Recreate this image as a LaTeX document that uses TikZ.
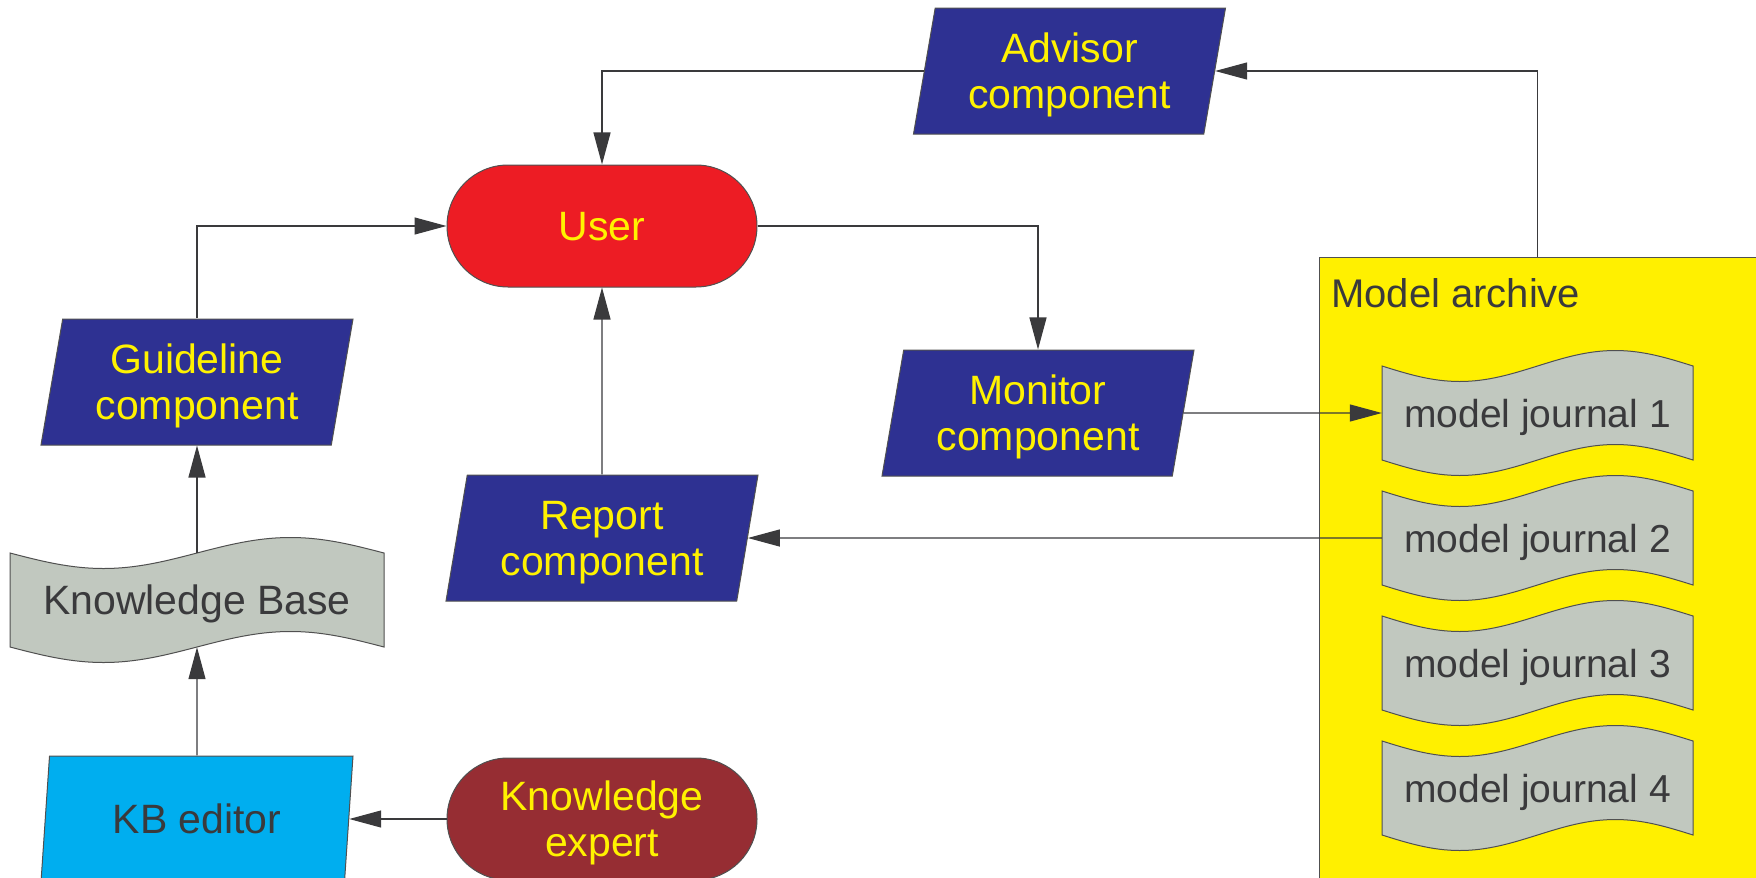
\documentclass[tikz,border=0pt]{standalone}
\usepackage{fontspec}
\setmainfont{Liberation Sans}
\usetikzlibrary{shapes.geometric,shapes.misc,arrows.meta}

\definecolor{compblue}{HTML}{2E3192}
\definecolor{textyellow}{HTML}{FFF200}
\definecolor{userred}{HTML}{ED1C24}
\definecolor{expertred}{HTML}{962D33}
\definecolor{editorcyan}{HTML}{00AEEF}
\definecolor{tapegray}{HTML}{C1C8BF}
\definecolor{archyellow}{HTML}{FFF000}
\definecolor{darktext}{HTML}{3A3A3C}
\definecolor{linegray}{HTML}{3A3A3C}
\definecolor{edgegray}{HTML}{505050}

\begin{document}
\begin{tikzpicture}[x=1pt,y=-1pt,
		every node/.style={font=\fontsize{41}{46}\selectfont, align=center, inner sep=0pt, text depth=0pt},
		component/.style={trapezium, trapezium left angle=74, trapezium right angle=106,
			trapezium stretches body, minimum width=312pt, minimum height=126pt,
			fill=compblue, draw=edgegray, line width=1pt, text=textyellow},
		terminal/.style={rounded rectangle, minimum width=310pt, minimum height=122pt,
			draw=edgegray, line width=1pt, text=textyellow},
		journal/.style={rectangle, minimum height=94pt, text=darktext},
		tapeedge/.style={fill=tapegray, draw=edgegray, line width=1pt},
		link/.style={draw=linegray, line width=1.2pt, -{Triangle[length=32pt,width=17pt]}}
	]
		\useasboundingbox (0,0) rectangle (1756,878);
		\fill[white] (0,0) rectangle (1756,878);
		\clip (0,0) rectangle (1756,878);

		% wavy sheet round a centre, #2 = half width
		\newcommand\wavetape[2]{\filldraw[tapeedge, shift={(#1)}]
			(-#2,-47) sin (-#2/2,-31.5) cos (0,-47) sin (#2/2,-62.5) cos (#2,-47)
			-- (#2,47) sin (#2/2,31.5) cos (0,47) sin (-#2/2,62.5) cos (-#2,47) -- cycle;}

		% archive and its journals
		\node[anchor=north west, minimum width=480pt, minimum height=660pt,
			fill=archyellow, draw=edgegray, line width=1pt] (archive) at (1319,257) {};
		\node[anchor=base west, text=darktext, font=\fontsize{40}{46}\selectfont] (archlabel) at (1331,307) {Model archive};
		\coordinate (mj1pos) at (1537.5,413);
		\coordinate (mj2pos) at (1537.5,538);
		\coordinate (mj3pos) at (1537.5,663);
		\coordinate (mj4pos) at (1537.5,788);
		\wavetape{mj1pos}{155.5}
		\wavetape{mj2pos}{155.5}
		\wavetape{mj3pos}{155.5}
		\wavetape{mj4pos}{155.5}
		\node[journal, minimum width=311pt, font=\fontsize{39}{46}\selectfont] (mj1) at (mj1pos) {model journal 1};
		\node[journal, minimum width=311pt, font=\fontsize{39}{46}\selectfont] (mj2) at (mj2pos) {model journal 2};
		\node[journal, minimum width=311pt, font=\fontsize{39}{46}\selectfont] (mj3) at (mj3pos) {model journal 3};
		\node[journal, minimum width=311pt, font=\fontsize{39}{46}\selectfont] (mj4) at (mj4pos) {model journal 4};

		% components
		\node[component] (advisor) at (1069.5,71) {Advisor\\component};
		\node[component] (guide) at (197,382) {Guideline\\component};
		\node[component] (monitor) at (1038,413) {Monitor\\component};
		\node[component] (report) at (602,538) {Report\\component};
		\node[component, fill=editorcyan, text=darktext] (kbedit) at (197,819) {KB editor};

		\node[terminal, fill=userred] (user) at (602,226) {User};
		\node[terminal, fill=expertred] (expert) at (602,819) {Knowledge\\expert};

		\coordinate (kbpos) at (197,600);
		\wavetape{kbpos}{187}
		\node[journal, minimum width=374pt] (kb) at (kbpos) {Knowledge Base};

		% connectors
		\draw[link] (advisor) -| (user);
		\draw[link] (guide) |- (user);
		\draw[link] (user) -| (monitor);
		\draw[link] (report) -- (user);
		\draw[link] (monitor) -- (mj1);
		\draw[link] (mj2) -- (report);
		\draw[link] (kb) -- (guide);
		\draw[link] (kbedit) -- (kb);
		\draw[link] (expert) -- (kbedit);
		\draw[link] (mj1 |- archive.north) |- (advisor);
	\end{tikzpicture}
\end{document}
